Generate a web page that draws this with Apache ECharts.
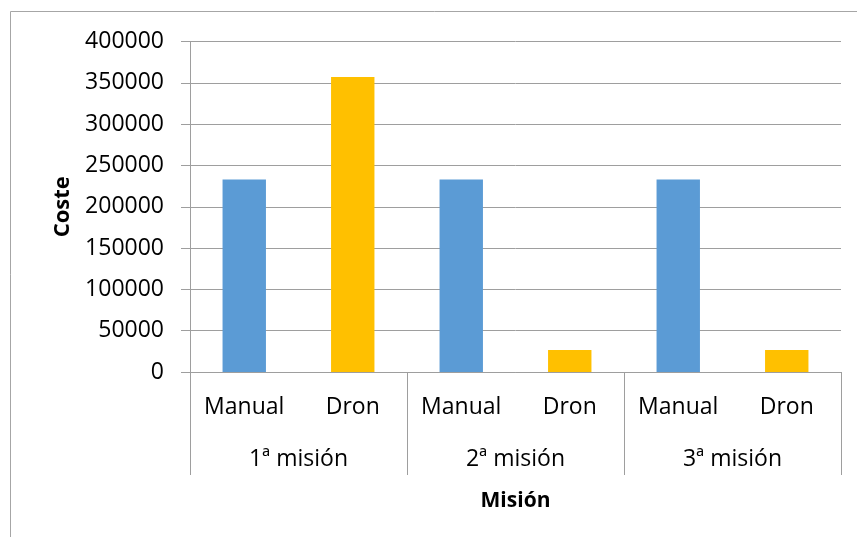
<!DOCTYPE html>
<html>
<head>
<meta charset="utf-8">
<script src="https://cdn.jsdelivr.net/npm/echarts@6/dist/echarts.min.js"></script>
<style>
  html, body { margin: 0; padding: 0; background: #fff; }
  #chart { width: 857px; height: 537px; }
</style>
</head>
<body>
<div id="chart"></div>
<script>
// datos
const categories = ['Manual', 'Dron', 'Manual', 'Dron', 'Manual', 'Dron'];
const groups = ['1ª misión', '2ª misión', '3ª misión'];
const values = [233000, 357000, 233000, 26500, 233000, 26500];
const colors = { Manual: '#5B9BD5', Dron: '#FFC000' };

const font = '"Open Sans", "Noto Sans", sans-serif';
const lineColor = '#9E9E9E';

const chart = echarts.init(document.getElementById('chart'), null, { renderer: 'canvas' });

const option = {
  animation: false,
  textStyle: { fontFamily: font },
  graphic: [{
    type: 'rect',
    shape: { x: 10.5, y: 11.5, width: 900, height: 600 },
    style: { fill: 'none', stroke: '#A6A6A6', lineWidth: 1 },
    silent: true
  }],
  grid: { left: 190, right: 16, top: 41.5, bottom: 165 },
  xAxis: [
    {
      type: 'category',
      data: categories,
      axisLine: { show: true, lineStyle: { color: lineColor, width: 1 } },
      axisTick: { show: false },
      axisLabel: { margin: 24, fontSize: 23, color: '#000', fontFamily: font, interval: 0 }
    },
    {
      // segundo nivel: misiones
      type: 'category',
      data: groups,
      position: 'bottom',
      axisLine: { show: false },
      axisTick: { show: true, length: 103, alignWithLabel: false, lineStyle: { color: lineColor, width: 1 } },
      axisLabel: { margin: 76, fontSize: 23, color: '#000', fontFamily: font, interval: 0 },
      name: 'Misión',
      nameLocation: 'middle',
      nameGap: 119,
      nameTextStyle: { fontSize: 21, fontWeight: 'bold', color: '#000', fontFamily: font }
    }
  ],
  yAxis: {
    type: 'value',
    min: 0,
    max: 400000,
    interval: 50000,
    name: 'Coste',
    nameLocation: 'middle',
    nameRotate: 90,
    nameGap: 116,
    nameTextStyle: { fontSize: 22, fontWeight: 'bold', color: '#000', fontFamily: font },
    axisLine: { show: true, lineStyle: { color: lineColor, width: 1 } },
    axisTick: { show: true, length: 9, lineStyle: { color: lineColor } },
    axisLabel: { margin: 26, fontSize: 23, color: '#000', fontFamily: font, formatter: v => String(v) },
    splitLine: { show: true, lineStyle: { color: lineColor, width: 1 } }
  },
  series: [{
    type: 'bar',
    xAxisIndex: 0,
    barWidth: '40%',
    data: values.map((v, i) => ({ value: v, itemStyle: { color: colors[categories[i]] } }))
  }]
};

chart.setOption(option);
</script>
</body>
</html>
